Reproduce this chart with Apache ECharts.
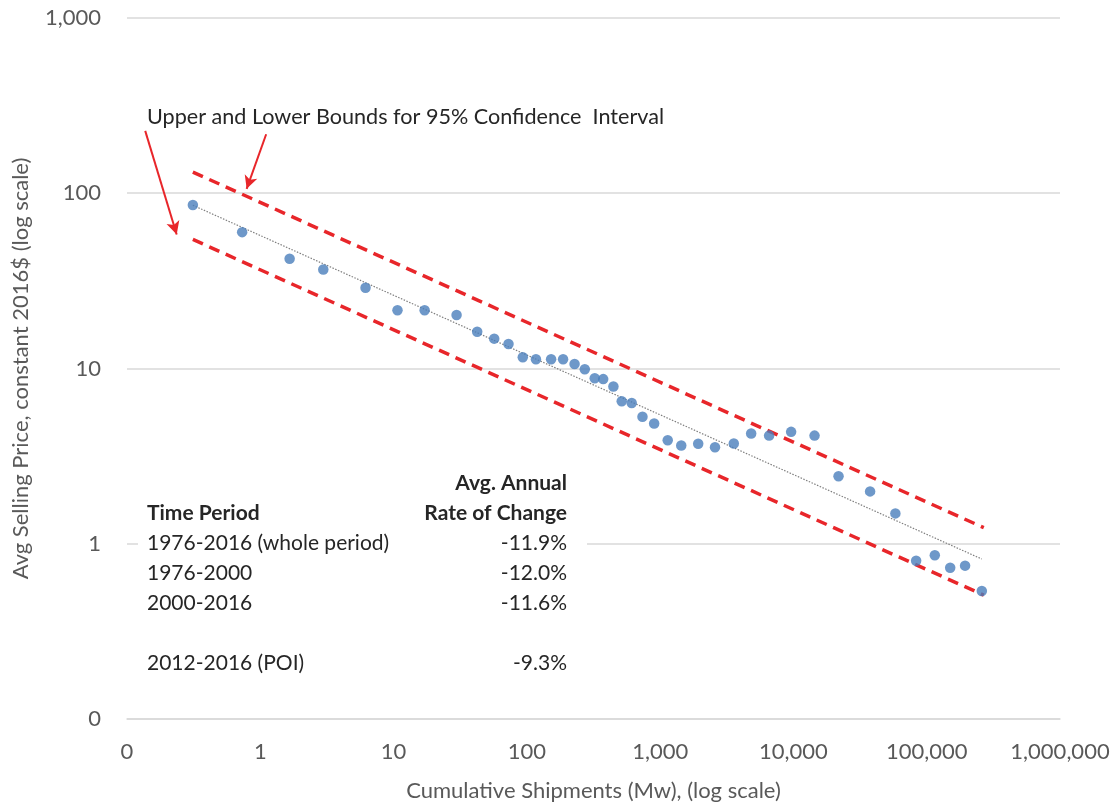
<!DOCTYPE html>
<html><head><meta charset="utf-8">
<script src="https://cdn.jsdelivr.net/npm/echarts@6/dist/echarts.min.js"></script>
<style>html,body{margin:0;padding:0;background:#fff}#c{width:1115px;height:806px}</style>
</head><body><div id="c"></div>
<script>
// Cumulative shipments (MW) and average selling price (constant 2016$)
const shipments = [0.312, 0.731, 1.66, 2.97, 6.16, 10.7, 17.1, 29.7, 42.4, 56.9, 72.8, 93.2, 117, 152, 187, 228, 272, 323, 374, 446, 515, 612, 737, 902, 1140, 1440, 1930, 2580, 3570, 4820, 6570, 9610, 14400, 21800, 37600, 58200, 83300, 115000, 150000, 194000, 259000];
const prices = [85.6, 60.0, 42.3, 36.7, 28.9, 21.5, 21.5, 20.2, 16.2, 14.8, 13.8, 11.6, 11.3, 11.3, 11.3, 10.6, 9.9, 8.8, 8.7, 7.9, 6.5, 6.35, 5.3, 4.85, 3.9, 3.64, 3.72, 3.55, 3.73, 4.26, 4.14, 4.35, 4.14, 2.43, 1.99, 1.49, 0.80, 0.86, 0.73, 0.75, 0.537];
// Fitted trend line and 95% confidence bounds (end points)
const trendX = [0.312, 259000];
const trendY = [85.4, 0.818];
const upperX = [0.312, 268000];
const upperY = [132, 1.235];
const lowerX = [0.312, 268000];
const lowerY = [54.5, 0.509];
// Annotation arrows: [x0, y0, x1, y1] in data units
const arrowLeft = [0.137, 227, 0.236, 58.2];
const arrowRight = [1.107, 217, 0.79, 106];
const annotationText = 'Upper and Lower Bounds for 95% Confidence  Interval';
// Table
const tableHeader1 = ['', 'Avg. Annual'];
const tableHeader2 = ['Time Period', 'Rate of Change'];
const periods = ['1976-2016 (whole period)', '1976-2000', '2000-2016', '', '2012-2016 (POI)'];
const rates = ['-11.9%', '-12.0%', '-11.6%', '', '-9.3%'];
const xAxisTitle = 'Cumulative Shipments (Mw), (log scale)';
const yAxisTitle = 'Avg Selling Price, constant 2016$ (log scale)';

const FONT = 'Lato, "Open Sans", sans-serif';
const RED = '#E8262A';
const TXT = '#262626';
const zip = (a, b) => a.map((v, i) => [v, b[i]]);
const fmt = v => { const r = Math.round(v); return v < 1 ? '0' : r.toLocaleString('en-US'); };

const chart = echarts.init(document.getElementById('c'), null, {renderer: 'canvas'});

const tableTexts = [];
const rowY0 = 543, rowStep = 30;
const tf = '21px ' + FONT, tfb = 'bold 21px ' + FONT;
tableTexts.push({type: 'rect', shape: {x: 138, y: 470, width: 449, height: 210}, style: {fill: '#ffffff'}, z: 5});
tableTexts.push({type: 'text', x: 567, y: 483, z: 6, style: {text: tableHeader1[1], font: tfb, fill: TXT, textAlign: 'right', textVerticalAlign: 'middle'}});
tableTexts.push({type: 'text', x: 147, y: 513, z: 6, style: {text: tableHeader2[0], font: tfb, fill: TXT, textAlign: 'left', textVerticalAlign: 'middle'}});
tableTexts.push({type: 'text', x: 567, y: 513, z: 6, style: {text: tableHeader2[1], font: tfb, fill: TXT, textAlign: 'right', textVerticalAlign: 'middle'}});
periods.forEach((p, i) => {
  if (!p) return;
  const y = rowY0 + i * rowStep;
  tableTexts.push({type: 'text', x: 147, y: y, z: 6, style: {text: p, font: tf, fill: TXT, textAlign: 'left', textVerticalAlign: 'middle'}});
  tableTexts.push({type: 'text', x: 567, y: y, z: 6, style: {text: rates[i], font: tf, fill: TXT, textAlign: 'right', textVerticalAlign: 'middle'}});
});
tableTexts.push({type: 'text', x: 147, y: 117, z: 6, style: {text: annotationText, font: '21.6px ' + FONT, fill: TXT, textAlign: 'left', textVerticalAlign: 'middle'}});

chart.setOption({
  animation: false,
  backgroundColor: '#ffffff',
  textStyle: {fontFamily: FONT},
  grid: {left: 127, right: 55, top: 18, bottom: 87, containLabel: false, outerBoundsMode: 'none'},
  xAxis: {
    type: 'log', logBase: 10, min: 0.1, max: 1000000,
    name: xAxisTitle, nameLocation: 'middle', nameGap: 61,
    nameTextStyle: {fontSize: 22, color: '#595959', fontFamily: FONT},
    axisLine: {show: true, lineStyle: {color: '#d9d9d9', width: 1.5}},
    axisTick: {show: false},
    splitLine: {show: false},
    minorTick: {show: false},
    axisLabel: {formatter: fmt, fontSize: 22, color: '#595959', margin: 22, fontFamily: FONT}
  },
  yAxis: {
    type: 'log', logBase: 10, min: 0.1, max: 1000,
    name: yAxisTitle, nameLocation: 'middle', nameGap: 95, nameRotate: 90,
    nameTextStyle: {fontSize: 22, color: '#595959', fontFamily: FONT},
    axisLine: {show: false},
    axisTick: {show: false},
    splitLine: {show: true, lineStyle: {color: '#d9d9d9', width: 1.5}},
    axisLabel: {formatter: fmt, fontSize: 22, color: '#595959', margin: 26, fontFamily: FONT}
  },
  graphic: tableTexts,
  series: [
    {
      type: 'line', name: 'Upper bound', data: zip(upperX, upperY), symbol: 'none', z: 3,
      lineStyle: {color: RED, width: 3.5, type: [11, 7], cap: 'butt'}
    },
    {
      type: 'line', name: 'Lower bound', data: zip(lowerX, lowerY), symbol: 'none', z: 3,
      lineStyle: {color: RED, width: 3.5, type: [11, 7], cap: 'butt'}
    },
    {
      type: 'line', name: 'Trend', data: zip(trendX, trendY), symbol: 'none', z: 2,
      lineStyle: {color: '#7f7f7f', width: 1.2, type: [1.5, 1.5]}
    },
    {
      type: 'scatter', name: 'ASP', data: zip(shipments, prices), symbol: 'circle', symbolSize: 10.5, z: 4,
      itemStyle: {color: '#4A7EBB'},
      markLine: {
        silent: true, symbol: ['none', 'arrow'], symbolSize: [10, 13], animation: false,
        label: {show: false},
        lineStyle: {color: RED, width: 2, type: 'solid'},
        data: [
          [{coord: [arrowLeft[0], arrowLeft[1]]}, {coord: [arrowLeft[2], arrowLeft[3]]}],
          [{coord: [arrowRight[0], arrowRight[1]]}, {coord: [arrowRight[2], arrowRight[3]]}]
        ]
      }
    }
  ]
});
</script>
</body></html>
